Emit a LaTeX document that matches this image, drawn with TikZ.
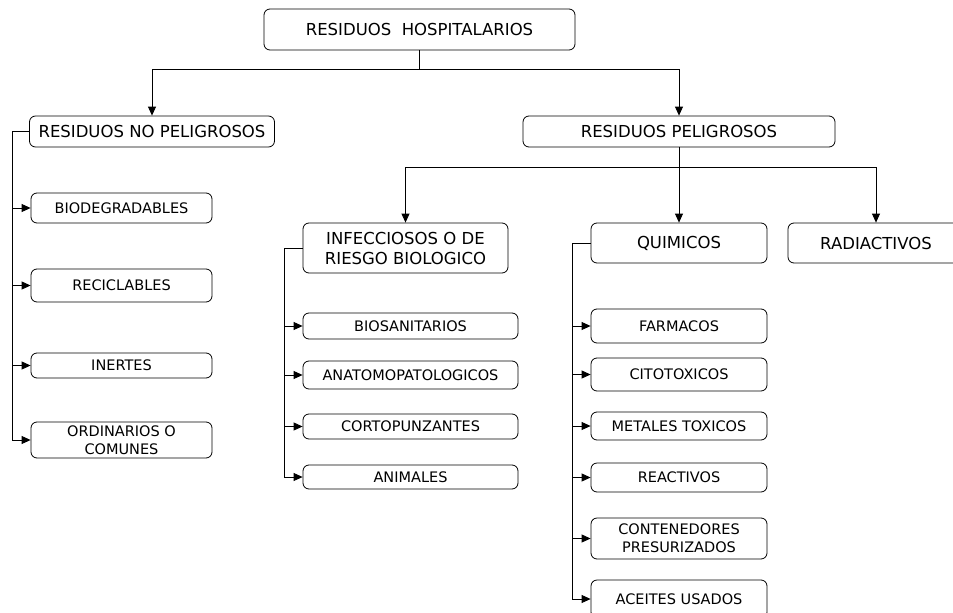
\documentclass[tikz,border=0pt]{standalone}
\usepackage{fontspec}
\setmainfont{DejaVu Sans}
\usetikzlibrary{arrows.meta}

\begin{document}
\begin{tikzpicture}[x=1pt,y=-1pt,
		line width=0.8pt,
		box/.style args = {#1/#2}{%
			draw, rounded corners=6pt, align=center, inner sep=0pt,
			minimum width=#1pt, minimum height=#2pt},
		big/.style = {font=\fontsize{16.5}{20}\selectfont},
		small/.style = {font=\fontsize{14.5}{18}\selectfont},
		arr/.style = {-{Triangle[length=9pt,width=8pt]}}
		]
		\useasboundingbox (0,0) rectangle (953,613);
		\clip (0,0) rectangle (953,613);
		% main levels
		\node (top) [box=311/41, big] at (419.5,29.5) {RESIDUOS\ \ HOSPITALARIOS};
		\node (rnp) [box=245/31, big] at (152,131.5) {RESIDUOS NO PELIGROSOS};
		\node (rp) [box=312/31, big] at (679,131.5) {RESIDUOS PELIGROSOS};
		\node (infe) [box=205/50, big] at (405.5,248) {INFECCIOSOS O DE\\RIESGO BIOLOGICO};
		\node (quim) [box=176/40, big] at (679,243) {QUIMICOS};
		\node (radi) [box=176/40, big] at (876,243) {RADIACTIVOS};
		% no peligrosos
		\node (bio) [box=181/30, small] at (121.5,208) {BIODEGRADABLES};
		\node (reci) [box=181/33, small] at (121.5,285.5) {RECICLABLES};
		\node (inert) [box=181/25, small] at (121.5,365.5) {INERTES};
		\node (ordi) [box=181/36, small] at (121.5,440) {ORDINARIOS O\\COMUNES};
		% infecciosos
		\node (biosan) [box=215/26, small] at (410.5,326) {BIOSANITARIOS};
		\node (anato) [box=215/28, small] at (410.5,375) {ANATOMOPATOLOGICOS};
		\node (corto) [box=215/25, small] at (410.5,426.5) {CORTOPUNZANTES};
		\node (anim) [box=215/24, small] at (410.5,477) {ANIMALES};
		% quimicos
		\node (farm) [box=176/34, small] at (679,326) {FARMACOS};
		\node (cito) [box=176/33, small] at (679,374.5) {CITOTOXICOS};
		\node (meta) [box=176/28, small] at (679,426) {METALES TOXICOS};
		\node (reac) [box=176/29, small] at (679,477.5) {REACTIVOS};
		\node (cont) [box=176/41, small] at (679,538.5) {CONTENEDORES\\PRESURIZADOS};
		\node (acei) [box=176/38, small] at (679,599) {ACEITES USADOS};
		% junctions
		\coordinate (j1) at (419.5,69);
		\coordinate (j2) at (679,167);
		\coordinate (s1) at (12,131.5);
		\coordinate (s2) at (284,248);
		\coordinate (s3) at (572,243);
		\draw (top.south) -- (j1);
		\draw (rp.south) -- (j2);
		\draw (rnp.west) -- (s1);
		\draw (infe.west) -- (s2);
		\draw (quim.west) -- (s3);
		\foreach \to in {rnp,rp}
		\draw[arr] (j1) -| (\to.north);
		\foreach \to in {infe,quim,radi}
		\draw[arr] (j2) -| (\to.north);
		\foreach \to in {bio,reci,inert,ordi}
		\draw[arr] (s1) |- (\to.west);
		\foreach \to in {biosan,anato,corto,anim}
		\draw[arr] (s2) |- (\to.west);
		\foreach \to in {farm,cito,meta,reac,cont,acei}
		\draw[arr] (s3) |- (\to.west);
	\end{tikzpicture}
\end{document}
